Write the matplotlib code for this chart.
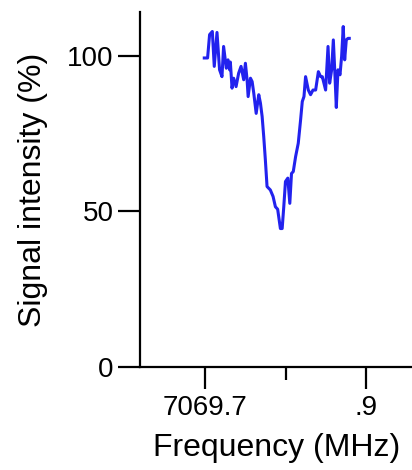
import matplotlib.pyplot as plt
import numpy as np

plt.rcParams['font.family'] = ['Liberation Sans', 'DejaVu Sans']

# frequency (MHz) and signal intensity (%)
freq = np.array([
    7069.6988, 7069.7029, 7069.7054, 7069.7088, 7069.7112, 7069.7146,
    7069.7178, 7069.7208, 7069.7228, 7069.7262, 7069.7283, 7069.7303,
    7069.7312, 7069.7333, 7069.7353, 7069.7383, 7069.7415, 7069.7445,
    7069.7478, 7069.7499, 7069.7520, 7069.7533, 7069.7562, 7069.7583,
    7069.7603, 7069.7633, 7069.7665, 7069.7686, 7069.7707, 7069.7727,
    7069.7747, 7069.7768, 7069.7809, 7069.7843, 7069.7872, 7069.7900,
    7069.7934, 7069.7956, 7069.7976, 7069.7997, 7069.8026, 7069.8051,
    7069.8072, 7069.8094, 7069.8123, 7069.8156, 7069.8185, 7069.8206,
    7069.8227, 7069.8247, 7069.8281, 7069.8309, 7069.8339, 7069.8372,
    7069.8406, 7069.8434, 7069.8455, 7069.8496, 7069.8526, 7069.8546,
    7069.8571, 7069.8592, 7069.8613, 7069.8629, 7069.8650, 7069.8675,
    7069.8695, 7069.8715, 7069.8733, 7069.8753, 7069.8774, 7069.8790,
])
signal = np.array([
    99.3, 99.3, 106.8, 107.8, 96.6, 107.5,
    95.5, 93.3, 103.0, 96.0, 98.7, 95.5,
    98.0, 89.6, 92.8, 90.1, 94.4, 96.6,
    92.3, 97.6, 92.3, 86.9, 92.8, 91.7,
    88.0, 81.5, 87.5, 84.8, 80.5, 74.0,
    66.6, 58.0, 56.9, 54.8, 51.5, 50.7,
    44.5, 44.5, 51.5, 59.6, 60.7, 52.6,
    62.2, 62.8, 67.6, 71.9, 79.4, 85.3,
    86.9, 93.3, 89.0, 87.5, 89.0, 89.0,
    94.9, 93.3, 93.3, 89.0, 103.0, 91.2,
    95.5, 105.1, 93.3, 83.4, 95.5, 93.9,
    99.8, 109.4, 98.7, 105.1, 105.6, 105.6,
])

fig = plt.figure(figsize=(4.12, 4.70), dpi=100)
ax = fig.add_axes([0.340, 0.219, 0.662, 0.755])

ax.plot(freq, signal, color='#2222ee', lw=2.2)

ax.set_xlim(7069.619, 7069.958)
ax.set_ylim(0, 114)
ax.set_xticks([7069.7, 7069.9])
ax.set_xticklabels(['7069.7', '.9'])
ax.set_xticks([7069.8], minor=True)
ax.set_yticks([0, 50, 100])

for s in ['top', 'right']:
    ax.spines[s].set_visible(False)
for s in ['left', 'bottom']:
    ax.spines[s].set_linewidth(1.6)

ax.tick_params(axis='both', which='major', length=16, width=1.6, labelsize=20, pad=3)
ax.tick_params(axis='x', which='major', pad=4)
ax.tick_params(axis='x', which='minor', length=9, width=1.6)

ax.set_xlabel('Frequency (MHz)', fontsize=23, labelpad=9)
ax.set_ylabel('Signal intensity (%)', fontsize=23, labelpad=14)

plt.savefig('out.png', dpi=100)
